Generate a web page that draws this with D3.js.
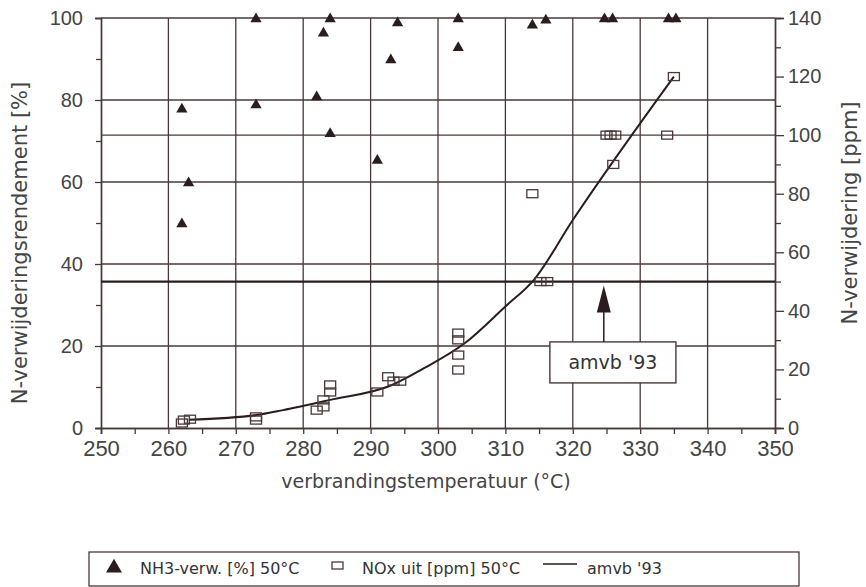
<!DOCTYPE html>
<html>
<head>
<meta charset="utf-8">
<script src="https://cdn.jsdelivr.net/npm/d3@7"></script>
<style>
  body { margin: 0; background: #fff; }
  svg { font-family: "DejaVu Sans", sans-serif; }
  .tick text { fill: #444; }
</style>
</head>
<body>
<svg id="chart" width="866" height="587"></svg>
<script>
// NH3 removal [%] (triangles)
var nh3Temp = [262, 262, 263, 273, 273, 282, 283, 284, 284, 291, 293, 294, 303, 303, 314, 316, 324.7, 325.9, 334.2, 335.3];
var nh3Val  = [78, 50, 60, 100, 79, 81, 96.5, 100, 72, 65.5, 90, 99, 100, 93, 98.5, 99.7, 100, 100, 100, 100];

// NOx out [ppm] (squares)
var noxTemp = [262, 262.3, 263.2, 273, 273, 282, 283, 283, 284, 284, 291, 292.6, 293.4, 294.4, 303, 303, 303, 303, 314, 315.2, 316.2, 325, 325.6, 326.3, 326, 334, 335];
var noxVal  = [1.7, 2.7, 3, 2.7, 3.8, 6.1, 7.2, 9.6, 12.3, 14.7, 12.3, 17.5, 16, 16, 19.8, 24.9, 30.1, 32.4, 80, 50, 50, 100, 100, 100, 90, 100, 120];

// fitted curve [ppm]
var fitTemp = [263, 273, 277, 284, 293, 298, 304, 310, 314.2, 320, 335];
var fitVal  = [2.8, 4.4, 6.1, 9.6, 14.5, 20.5, 29, 41.5, 50.5, 71, 120];

// amvb '93 limit [ppm]
var amvbVal = 50;

var xTicks = [250, 260, 270, 280, 290, 300, 310, 320, 330, 340, 350];
var xMinor = [255, 265, 275, 285, 295, 305, 315, 325, 335, 345];
var leftTicks = [0, 20, 40, 60, 80, 100];
var leftMinor = [10, 30, 50, 70, 90];
var rightTicks = [0, 20, 40, 60, 80, 100, 120, 140];
var rightMinor = [10, 30, 50, 70, 90, 110, 130];
var rightGrid = [100];

var svg = d3.select("#chart");
var LINE = "#4a3838", DARK = "#2b1d1d";

var x = d3.scaleLinear().domain([250, 350]).range([101, 775]);
var yL = d3.scaleLinear().domain([0, 100]).range([428, 18]);
var yR = d3.scaleLinear().domain([0, 140]).range([428, 18]);

// grid
var grid = svg.append("g").attr("stroke", LINE).attr("stroke-width", 1.3);
grid.selectAll("line.v").data(xTicks.slice(1, -1)).enter().append("line")
  .attr("x1", x).attr("x2", x).attr("y1", yL(0)).attr("y2", yL(100));
grid.selectAll("line.h").data(leftTicks.slice(1)).enter().append("line")
  .attr("x1", x(250)).attr("x2", x(350)).attr("y1", yL).attr("y2", yL);
grid.selectAll("line.r").data(rightGrid).enter().append("line")
  .attr("x1", x(250)).attr("x2", x(350)).attr("y1", yR).attr("y2", yR);

// axes
function styleAxis(g, fs) {
  g.select(".domain").attr("stroke", LINE).attr("stroke-width", 1.4);
  g.selectAll(".tick line").attr("stroke", LINE).attr("stroke-width", 1.3);
  g.selectAll(".tick text").style("font-size", (fs || 20) + "px");
}

svg.append("g").attr("transform", "translate(0," + yL(0) + ")")
  .call(d3.axisBottom(x).tickValues(xTicks).tickSize(6).tickPadding(6).tickFormat(d3.format("d")))
  .call(styleAxis, 22);
svg.append("g").attr("transform", "translate(0," + yL(0) + ")")
  .call(d3.axisBottom(x).tickValues(xMinor).tickSize(6).tickFormat(""))
  .call(styleAxis);

svg.append("g").attr("transform", "translate(" + x(250) + ",0)")
  .call(d3.axisLeft(yL).tickValues(leftTicks).tickSize(6).tickPadding(12))
  .call(styleAxis, 20);
svg.append("g").attr("transform", "translate(" + x(250) + ",0)")
  .call(d3.axisLeft(yL).tickValues(leftMinor).tickSize(5).tickFormat(""))
  .call(styleAxis);

svg.append("g").attr("transform", "translate(" + x(350) + ",0)")
  .call(d3.axisRight(yR).tickValues(rightTicks).tickSize(9).tickPadding(4))
  .call(styleAxis, 20);
svg.append("g").attr("transform", "translate(" + x(350) + ",0)")
  .call(d3.axisRight(yR).tickValues(rightMinor).tickSize(6).tickFormat(""))
  .call(styleAxis);

// amvb '93 line
svg.append("line")
  .attr("x1", x(250)).attr("x2", x(350)).attr("y1", yR(amvbVal)).attr("y2", yR(amvbVal))
  .attr("stroke", DARK).attr("stroke-width", 2.2);

// fitted curve
var fit = fitTemp.map(function(t, i) { return [t, fitVal[i]]; });
svg.append("path").datum(fit)
  .attr("d", d3.line().x(function(d) { return x(d[0]); }).y(function(d) { return yR(d[1]); }).curve(d3.curveMonotoneX))
  .attr("fill", "none").attr("stroke", DARK).attr("stroke-width", 2);

// squares
svg.append("g").selectAll("rect").data(noxTemp.map(function(t, i) { return [t, noxVal[i]]; })).enter().append("rect")
  .attr("x", function(d) { return x(d[0]) - 5.5; })
  .attr("y", function(d) { return yR(d[1]) - 4; })
  .attr("width", 11).attr("height", 8)
  .attr("fill", "none").attr("stroke", LINE).attr("stroke-width", 1.3);

// triangles
var tri = d3.symbol().type(d3.symbolTriangle).size(55);
svg.append("g").selectAll("path").data(nh3Temp.map(function(t, i) { return [t, nh3Val[i]]; })).enter().append("path")
  .attr("d", tri)
  .attr("transform", function(d) { return "translate(" + x(d[0]) + "," + (yL(d[1]) + 1) + ")"; })
  .attr("fill", DARK);

// annotation box + arrow
var bx0 = x(316.6), bx1 = x(335.3), by0 = yR(29.4), by1 = yR(15.4), ax = x(324.6);
svg.append("rect").attr("x", bx0).attr("y", by0).attr("width", bx1 - bx0).attr("height", by1 - by0)
  .attr("fill", "#fff").attr("stroke", LINE).attr("stroke-width", 1.4);
svg.append("text").attr("x", (bx0 + bx1) / 2).attr("y", (by0 + by1) / 2 + 7)
  .attr("text-anchor", "middle").style("font-size", "19px").style("fill", "#333").text("amvb '93");
svg.append("line").attr("x1", ax).attr("x2", ax).attr("y1", by0).attr("y2", yR(amvbVal) + 20)
  .attr("stroke", DARK).attr("stroke-width", 1.5);
svg.append("path")
  .attr("d", "M" + ax + "," + (yR(amvbVal) + 4) + "L" + (ax - 7) + "," + (yR(amvbVal) + 31) + "L" + (ax + 7) + "," + (yR(amvbVal) + 31) + "Z")
  .attr("fill", DARK);

// axis titles
svg.append("text").attr("transform", "translate(27,243) rotate(-90)")
  .attr("text-anchor", "middle").style("font-size", "21px").style("fill", "#444")
  .text("N-verwijderingsrendement [%]");
svg.append("text").attr("transform", "translate(857,213) rotate(-90)")
  .attr("text-anchor", "middle").style("font-size", "21px").style("fill", "#444")
  .text("N-verwijdering [ppm]");
svg.append("text").attr("x", 426).attr("y", 488)
  .attr("text-anchor", "middle").style("font-size", "19px").style("fill", "#444")
  .text("verbrandingstemperatuur (°C)");

// legend
var lg = svg.append("g").style("font-size", "16px").style("fill", "#333");
lg.append("rect").attr("x", 89).attr("y", 552).attr("width", 710).attr("height", 34)
  .attr("fill", "none").attr("stroke", LINE).attr("stroke-width", 1.3);
lg.append("path").attr("d", d3.symbol().type(d3.symbolTriangle).size(110))
  .attr("transform", "translate(114,568)").attr("fill", DARK);
lg.append("text").attr("x", 140).attr("y", 574).text("NH3-verw. [%] 50°C");
lg.append("rect").attr("x", 332).attr("y", 562).attr("width", 11).attr("height", 7)
  .attr("fill", "none").attr("stroke", LINE).attr("stroke-width", 1.3);
lg.append("text").attr("x", 362).attr("y", 574).text("NOx uit [ppm] 50°C");
lg.append("line").attr("x1", 543).attr("x2", 577).attr("y1", 564).attr("y2", 564)
  .attr("stroke", DARK).attr("stroke-width", 1.6);
lg.append("text").attr("x", 587).attr("y", 574).text("amvb '93");
</script>
</body>
</html>
